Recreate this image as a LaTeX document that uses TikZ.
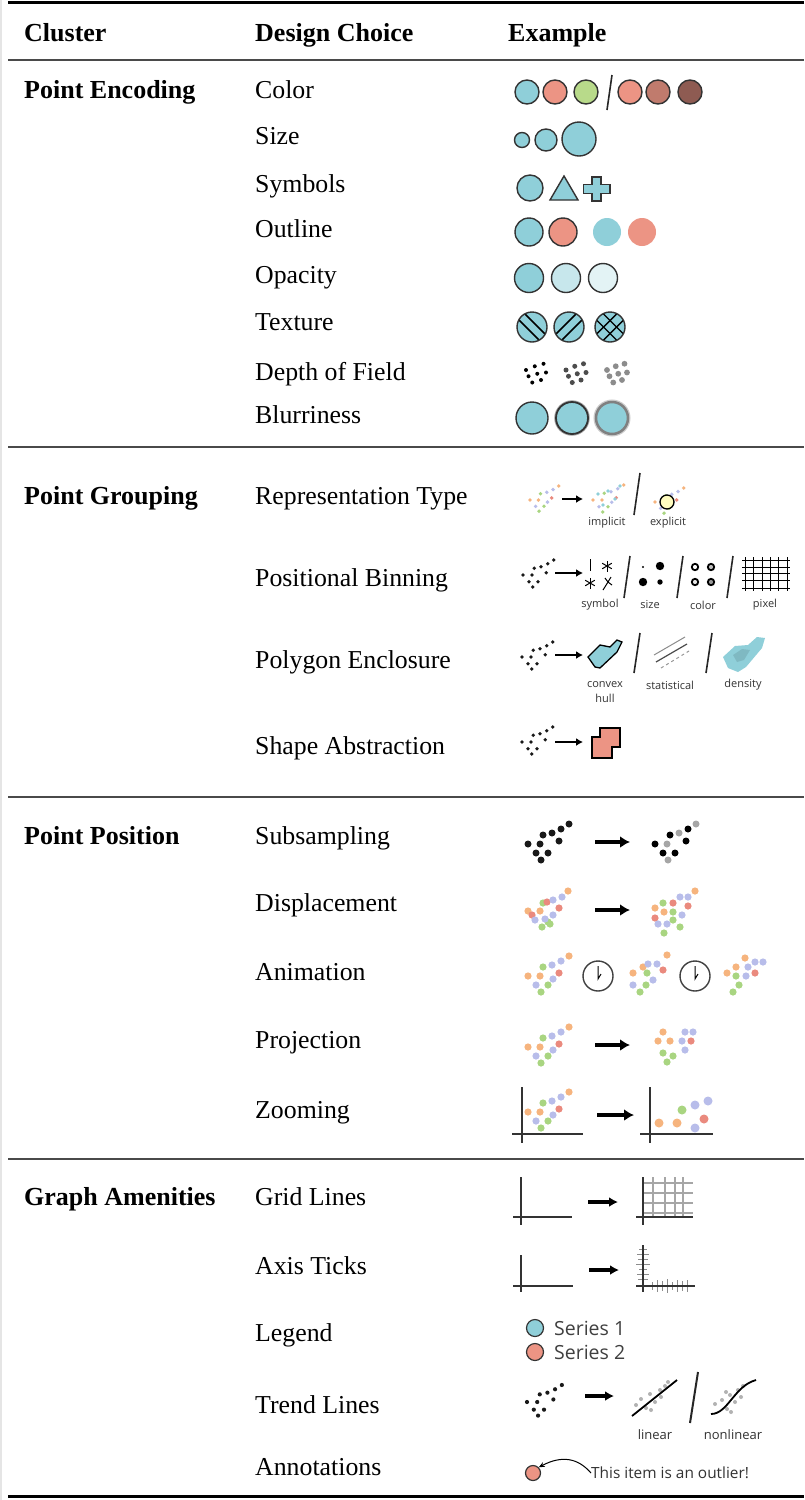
\documentclass[tikz,border=0pt]{standalone}
\usepackage{fontspec}
\setmainfont{Liberation Serif}
\newfontfamily\iconfont{Open Sans}
\usetikzlibrary{arrows.meta}

\definecolor{tealfill}{HTML}{8FCFD9}
\definecolor{salmonfill}{HTML}{EC9484}
\definecolor{greenfill}{HTML}{B8DA8A}
\definecolor{brownA}{HTML}{C07B6D}
\definecolor{brownB}{HTML}{8E5B52}
\definecolor{dotorange}{HTML}{F6B47E}
\definecolor{dotgreen}{HTML}{A9D581}
\definecolor{dotblue}{HTML}{B8BDEA}
\definecolor{dotred}{HTML}{EA8A7E}
\definecolor{rulegray}{HTML}{4A4A4A}

\tikzset{%
  >={Latex[width=2mm,length=2mm]},
  % Specifications for style of nodes:
       textbase/.style = {inner sep=0pt, anchor=base west},
   clusterlabel/.style = {textbase, font=\fontsize{26}{30}\selectfont\bfseries},
    choicelabel/.style = {textbase, font=\fontsize{25.8}{30}\selectfont},
      iconlabel/.style = {inner sep=0pt, text=black!80,
                          font=\iconfont\fontsize{11}{12}\selectfont},
    legendlabel/.style = {inner sep=0pt, anchor=west, text=black!75,
                          font=\iconfont\fontsize{19.5}{20}\selectfont},
  % Specifications for style of the small pictures:
          glyph/.style = {draw=black!80, line width=1.4},
       slashbar/.style = {draw=black!85, line width=1.6},
       smallarr/.style = {-{Latex[length=7pt,width=8pt]}, line width=2.4},
         midarr/.style = {-{Latex[length=9pt,width=10pt]}, line width=3.4},
         bigarr/.style = {-{Latex[length=10pt,width=12pt]}, line width=4},
       axisline/.style = {draw=black!80, line width=1.3},
}

% scatter of black dots: x, y, scale, radius
\newcommand{\blackscatter}[4]{%
  \foreach \px/\py in {0/0,12/0,8/9,13/16,20/9,15/-9,24/-11,33/-15,41/-20,31/-3}
    \fill[black!90] ({#1+#3*\px},{#2+#3*\py}) circle (#4);}
% scatter of coloured dots: x, y, scale, radius
\newcommand{\colorscatter}[4]{%
  \foreach \px/\py/\pc in {0/0/dotorange,12/0/dotorange,8/9/dotblue,13/16/dotgreen,
      20/9/dotgreen,15/-9/dotgreen,24/-11/dotblue,33/-15/dotblue,41/-20/dotorange,
      31/-3/dotred,25/3/dotblue}
    \fill[\pc] ({#1+#3*\px},{#2+#3*\py}) circle (#4);}
% small dot cluster for depth of field: x, y, radius, colour
\newcommand{\depthcluster}[4]{%
  \foreach \px/\py in {0/0,7/-3,14/-5,2/5,9/3,16/2,5/10,12/8}
    \fill[#4] ({#1+1.25*\px},{#2+1.25*\py}) circle (#3);}

\begin{document}
\begin{tikzpicture}[x=1pt, y=-1pt]
  \useasboundingbox (0,0) rectangle (804,1500);
  \fill[white] (0,0) rectangle (804,1500);
  \fill[black!10] (0,0) rectangle (2,1500);

  % Specification of the rules of the table
  \draw[line width=3] (8,2) -- (804,2);
  \foreach \ry in {60,447,797,1159}
    \draw[rulegray, line width=1.2] (8,\ry) -- (804,\ry);
  \draw[line width=3] (8,1496) -- (804,1496);

  % Specification of nodes (position, etc.)
  \node[clusterlabel] (hcluster) at (24,41) {Cluster};
  \node[clusterlabel] (hchoice)  at (255,41) {Design Choice};
  \node[clusterlabel] (hexample) at (508,41) {Example};

  \node[clusterlabel] (encoding) at (24,98)   {Point Encoding};
  \node[clusterlabel] (grouping) at (24,504)  {Point Grouping};
  \node[clusterlabel] (position) at (24,844)  {Point Position};
  \node[clusterlabel] (amenity)  at (24,1205) {Graph Amenities};

  \foreach \nm/\yy/\txt in {color/90/Color, size/136/Size, symbols/184/Symbols,
      outline/229/Outline, opacity/275/Opacity, texture/322/Texture,
      depth/372/Depth of Field, blur/415/Blurriness,
      reptype/496/Representation Type, binning/578/Positional Binning,
      polygon/660/Polygon Enclosure, shapeabs/746/Shape Abstraction,
      subsample/836/Subsampling, displace/903/Displacement,
      animation/972/Animation, projection/1040/Projection, zooming/1110/Zooming,
      gridl/1197/Grid Lines, ticks/1266/Axis Ticks, legend/1333/Legend,
      trend/1405/Trend Lines, annot/1467/Annotations}
    \node[choicelabel] (\nm) at (255,\yy+8) {\txt};

  % Point Encoding examples
  \foreach \xx/\cc in {527/tealfill,555/salmonfill,586/greenfill,
                       630/salmonfill,658/brownA,690/brownB}
    \draw[glyph, fill=\cc] (\xx,92) circle (12);
  \draw[slashbar] (612,75) -- (607,110);

  \draw[glyph, fill=tealfill] (522,140) circle (7.5);
  \draw[glyph, fill=tealfill] (546,140) circle (11);
  \draw[glyph, fill=tealfill] (579,139) circle (17);

  \draw[glyph, fill=tealfill] (530,188) circle (13);
  \draw[glyph, fill=tealfill] (550,200) -- (578,200) -- (564,176) -- cycle;
  \draw[glyph, fill=tealfill] (592,177) -- (601,177) -- (601,184.5) -- (610,184.5)
    -- (610,193.5) -- (601,193.5) -- (601,201) -- (592,201) -- (592,193.5)
    -- (583.5,193.5) -- (583.5,184.5) -- (592,184.5) -- cycle;

  \draw[glyph, fill=tealfill]   (529,232) circle (14);
  \draw[glyph, fill=salmonfill] (563,232) circle (14);
  \fill[tealfill]   (607,232) circle (14);
  \fill[salmonfill] (642,232) circle (14);

  \draw[glyph, fill=tealfill]     (529,278) circle (14.5);
  \draw[glyph, fill=tealfill!50]  (566,278) circle (14.5);
  \draw[glyph, fill=tealfill!25]  (603,278) circle (14.5);

  \foreach \xx/\kind in {532/1,569/2,610/3} {
    \fill[tealfill] (\xx,327) circle (15);
    \begin{scope}
      \clip (\xx,327) circle (15);
      \ifnum\kind=1
        \foreach \o in {-6,6}
          \draw[line width=1.5] (\xx+\o-20,307) -- (\xx+\o+20,347);
      \fi
      \ifnum\kind=2
        \foreach \o in {-6,6}
          \draw[line width=1.5] (\xx+\o-20,347) -- (\xx+\o+20,307);
      \fi
      \ifnum\kind=3
        \foreach \o in {-6.5,6.5} {
          \draw[line width=1.4] (\xx+\o-20,307) -- (\xx+\o+20,347);
          \draw[line width=1.4] (\xx+\o-20,347) -- (\xx+\o+20,307);
        }
      \fi
    \end{scope}
    \draw[glyph] (\xx,327) circle (15);
  }

  \depthcluster{526}{370}{2}{black}
  \depthcluster{566}{370}{2.5}{black!70}
  \depthcluster{607}{370}{2.9}{black!45}

  \draw[glyph, fill=tealfill] (532,418) circle (16);
  \draw[black!35, line width=3.5] (572,418) circle (16);
  \draw[glyph, fill=tealfill, line width=1.8] (572,418) circle (16);
  \draw[black!20, line width=5] (612,418) circle (16);
  \draw[black!50, line width=2.5, fill=tealfill] (612,418) circle (16);

  % Point Grouping examples
  \colorscatter{530}{500}{0.7}{1.9}
  \draw[smallarr] (562,499) -- (583,499);
  \colorscatter{593}{500}{0.75}{1.9}
  \foreach \px/\py in {598/494,608/491,603/505,615/499,620/486}
    \fill[tealfill] (\px,\py) circle (1.9);
  \draw[slashbar] (640,473) -- (634,515);
  \colorscatter{655}{502}{0.7}{1.9}
  \draw[line width=1.3, fill=yellow!25] (667,502) circle (7);
  \node[iconlabel] (implicit) at (607,523) {implicit};
  \node[iconlabel] (explicit) at (668,523) {explicit};

  \blackscatter{523}{575}{0.75}{1.9}
  \draw[smallarr] (555,573) -- (583,573);
  \draw[line width=1] (590,559) -- (590,571);
  \foreach \sx/\sy in {607/566,590/583}
    \foreach \a in {90,30,150}
      \draw[line width=1] (\sx,\sy) +(\a:5.5) -- +(\a+180:5.5);
  \draw[line width=1] (603,590) -- (608,582) -- (611,577) (608,582) -- (605,578)
    (608,582) -- (612,585);
  \draw[slashbar] (630,556) -- (624,598);
  \fill (643,567) circle (1.2);
  \fill (660,566) circle (4.2);
  \fill (643,582) circle (4.2);
  \fill (660,582) circle (2.7);
  \draw[slashbar] (683,556) -- (677,598);
  \foreach \cx/\cy/\ci in {695/567/white,711/567/black!25,695/582/black!10,711/582/black!40}
    \draw[line width=1.8, fill=\ci] (\cx,\cy) circle (3.2);
  \draw[slashbar] (733,556) -- (727,598);
  \foreach \gx in {745,753,762,770,778,787}
    \draw[line width=1] (\gx,557) -- (\gx,591);
  \foreach \gy in {560,567,573,580,588}
    \draw[line width=1] (742,\gy) -- (790,\gy);
  \node[iconlabel] (lsymbol) at (600,605) {symbol};
  \node[iconlabel] (lsize)   at (650,605) {size};
  \node[iconlabel] (lcolor)  at (703,605) {color};
  \node[iconlabel] (lpixel)  at (765,605) {pixel};

  \blackscatter{522}{657}{0.75}{1.9}
  \draw[smallarr] (555,655) -- (583,655);
  \draw[line width=1.3, fill=tealfill] (588,657) -- (600,645) -- (610,647) -- (617,640)
    -- (622,642) -- (617,652) -- (600,668) -- (595,667) -- cycle;
  \draw[slashbar] (640,633) -- (634,673);
  \draw[black!45, line width=1] (654,655) -- (685,637);
  \draw[black!70, line width=1.2] (656,662) -- (687,644);
  \draw[black!40, line width=1, dashed] (661,668) -- (689,651);
  \draw[slashbar] (712,633) -- (706,673);
  \fill[tealfill] (723,657) -- (735,646) -- (748,645) -- (757,637) -- (765,638)
    -- (762,648) -- (746,667) -- (738,672) -- (728,668) -- cycle;
  \fill[tealfill!70!black, opacity=0.35] (733,655) -- (742,649) -- (750,650)
    -- (744,660) -- (737,662) -- cycle;
  \node[iconlabel] (lconvex) at (605,685) {convex};
  \node[iconlabel] (lhull)   at (605,698) {hull};
  \node[iconlabel] (lstat)   at (670,685) {statistical};
  \node[iconlabel] (ldens)   at (743,685) {density};

  \blackscatter{522}{742}{0.75}{1.9}
  \draw[smallarr] (555,742) -- (583,742);
  \draw[line width=1.3, fill=salmonfill] (600,728) -- (620,728) -- (620,747)
    -- (612,747) -- (612,758) -- (592,758) -- (592,737) -- (600,737) -- cycle;

  % Point Position examples
  \blackscatter{528}{844}{1}{3.5}
  \draw[bigarr] (595,842) -- (630,842);
  \foreach \px/\py/\pc in {0/0/black,12/0/black!35,8/9/black,13/16/black!35,20/9/black,
      15/-9/black,24/-11/black!35,33/-15/black,41/-20/black!35,31/-3/black}
    \fill[\pc] ({655+\px},{844+\py}) circle (3.5);

  \foreach \px/\py/\pc in {528/911/dotorange,532/915/dotred,535/920/dotblue,
      540/911/dotorange,543/903/dotgreen,547/902/dotred,542/927/dotgreen,
      548/922/dotgreen,550/924/dotgreen,553/915/dotblue,553/900/dotblue,
      562/897/dotblue,568/891/dotorange,559/908/dotred,545/919/dotblue}
    \fill[\pc] (\px,\py) circle (3.6);
  \draw[bigarr] (595,910) -- (630,910);
  \foreach \px/\py/\pc in {655/908/dotorange,655/918/dotred,663/903/dotgreen,
      664/912/dotorange,673/903/dotred,673/912/dotgreen,680/897/dotblue,
      688/897/dotblue,695/891/dotorange,688/906/dotred,682/915/dotblue,
      673/920/dotgreen,658/924/dotblue,667/924/dotblue,680/927/dotgreen,
      664/933/dotgreen}
    \fill[\pc] (\px,\py) circle (3.6);

  \colorscatter{528}{976}{1}{3.6}
  \foreach \px/\py/\pc in {633/973/dotorange,643/967/dotorange,647/973/dotgreen,
      648/964/dotblue,657/964/dotblue,667/955/dotorange,663/970/dotred,
      633/985/dotblue,653/980/dotblue,646/985/dotgreen,640/992/dotgreen}
    \fill[\pc] (\px,\py) circle (3.6);
  \foreach \px/\py/\pc in {727/973/dotorange,736/967/dotorange,745/958/dotorange,
      736/976/dotgreen,739/985/dotgreen,733/992/dotgreen,748/967/dotblue,
      755/962/dotblue,763/962/dotblue,746/976/dotblue,755/973/dotred}
    \fill[\pc] (\px,\py) circle (3.6);
  \foreach \cx in {598,695} {
    \draw[black!75, line width=1.4] (\cx,976) circle (15);
    \draw[line width=1] (\cx,966) -- (\cx,979) -- (\cx+3,974);
  }

  \colorscatter{528}{1047}{1}{3.6}
  \draw[bigarr] (595,1045) -- (630,1045);
  \foreach \px/\py/\pc in {663/1032/dotorange,658/1041/dotorange,670/1041/dotorange,
      685/1032/dotblue,693/1032/dotblue,682/1041/dotblue,685/1050/dotblue,
      691/1041/dotred,663/1053/dotgreen,673/1056/dotgreen,667/1062/dotgreen}
    \fill[\pc] (\px,\py) circle (3.6);

  \draw[axisline] (522,1087) -- (522,1143) (512,1134) -- (583,1134);
  \colorscatter{528}{1112}{1}{3.6}
  \draw[bigarr] (597,1115) -- (634,1115);
  \draw[axisline] (650,1087) -- (650,1143) (640,1134) -- (713,1134);
  \foreach \px/\py/\pc in {659/1123/dotorange,677/1123/dotorange,682/1110/dotgreen,
      695/1105/dotblue,708/1101/dotblue,695/1128/dotblue,704/1119/dotred}
    \fill[\pc] (\px,\py) circle (4.5);

  % Graph Amenities examples
  \draw[axisline] (521,1177) -- (521,1225) (513,1217) -- (572,1217);
  \draw[midarr] (588,1202) -- (618,1202);
  \foreach \gx in {653,665,675,683}
    \draw[black!35, line width=1.2] (\gx,1177) -- (\gx,1217);
  \foreach \gy in {1183,1193,1203,1213}
    \draw[black!35, line width=1.2] (643,\gy) -- (693,\gy);
  \draw[axisline] (643,1177) -- (643,1225) (636,1217) -- (693,1217);

  \draw[axisline] (521,1255) -- (521,1292) (513,1286) -- (573,1286);
  \draw[midarr] (589,1270) -- (619,1270);
  \foreach \ty/\tw in {1249/4,1254/6,1259/5,1264/7,1269/4,1274/6,1279/5}
    \draw[black!45, line width=0.9] (643-\tw,\ty) -- (643+\tw,\ty);
  \foreach \tx/\th in {652/4,657/6,662/5,667/7,672/4,677/6,682/5,687/6}
    \draw[black!45, line width=0.9] (\tx,1286-\th) -- (\tx,1286+\th);
  \draw[axisline] (643,1245) -- (643,1292) (636,1286) -- (695,1286);

  \node[circle, draw=black!80, line width=1.2, fill=tealfill, minimum size=17pt,
        inner sep=0pt] (series1dot) at (535,1328) {};
  \node[circle, draw=black!80, line width=1.2, fill=salmonfill, minimum size=17pt,
        inner sep=0pt] (series2dot) at (535,1352) {};
  \node[legendlabel] (series1) at (554,1328) {Series 1};
  \node[legendlabel] (series2) at (554,1352) {Series 2};

  \blackscatter{527}{1402}{0.85}{2.1}
  \draw[midarr] (585,1396) -- (614,1396);
  \foreach \px/\py in {636/1405,641/1399,646/1408,650/1394,655/1402,660/1390,
      665/1386,651/1410,661/1397,668/1382}
    \fill[black!30] (\px,\py) circle (2);
  \draw[line width=1.8] (632,1416) -- (677,1380);
  \draw[slashbar, line width=2] (698,1372) -- (690,1423);
  \foreach \px/\py in {715/1404,722/1400,727/1409,730/1395,735/1402,738/1390,
      743/1386,731/1412,741/1397,726/1392}
    \fill[black!30] (\px,\py) circle (2);
  \draw[line width=1.8] (711,1414) .. controls (728,1414) and (734,1386) .. (756,1380);
  \node[iconlabel, font=\iconfont\fontsize{13}{14}\selectfont] (llinear)
    at (655,1435) {linear};
  \node[iconlabel, font=\iconfont\fontsize{13}{14}\selectfont] (lnonlinear)
    at (733,1435) {nonlinear};

  \node[circle, draw=black!80, line width=1.2, fill=salmonfill, minimum size=15pt,
        inner sep=0pt] (outlierdot) at (533,1473) {};
  \node[inner sep=0pt, anchor=west, text=black!80,
        font=\iconfont\fontsize{15.4}{16}\selectfont] (outliertext)
    at (591,1473) {This item is an outlier!};
  \draw[-{Stealth[length=6pt,width=5pt]}, line width=1] (outliertext.west)
    .. controls (578,1458) and (562,1455) .. (outlierdot.north east);
\end{tikzpicture}
\end{document}
